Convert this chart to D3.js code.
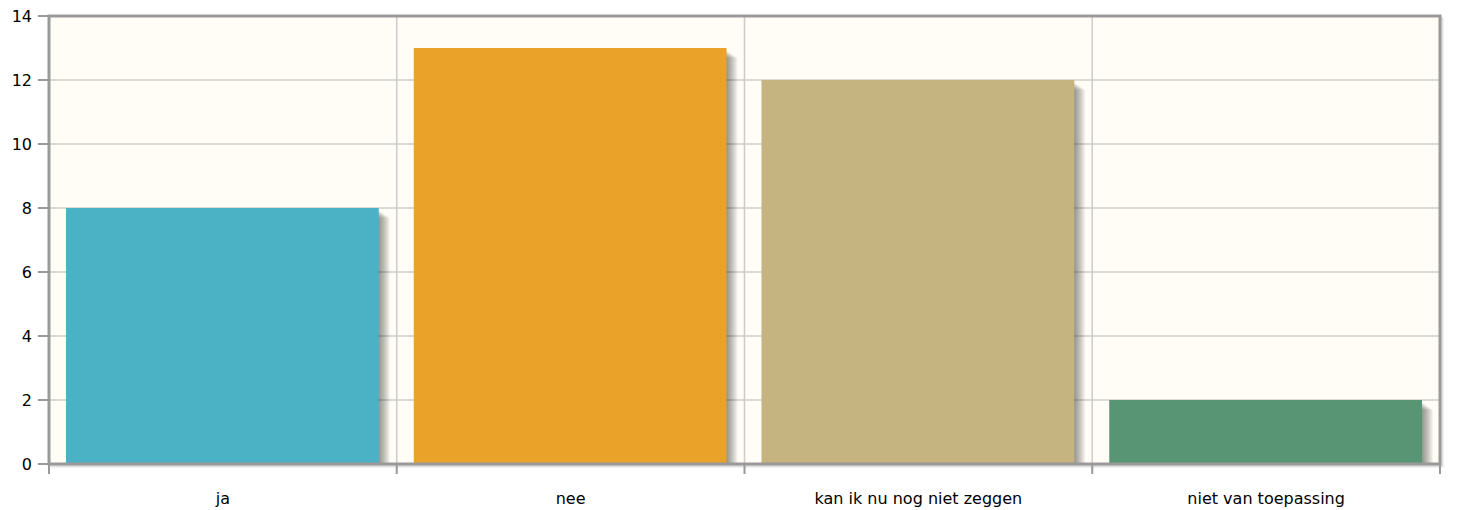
<!DOCTYPE html>
<html>
<head>
<meta charset="utf-8">
<script src="https://cdn.jsdelivr.net/npm/d3@7"></script>
<style>
  body { margin: 0; background: #fff; }
  text { font-family: "DejaVu Sans", sans-serif; font-size: 16px; fill: #000; }
</style>
</head>
<body>
<script>
// chart data
var categories = ["ja", "nee", "kan ik nu nog niet zeggen", "niet van toepassing"];
var counts = [8, 13, 12, 2];
var colors = ["#4bb2c5", "#eaa228", "#c5b47f", "#579575"];
var yTicks = [0, 2, 4, 6, 8, 10, 12, 14];

var W = 1457, H = 510;
var margin = { top: 16, right: 17, bottom: 46, left: 49 },
  width = W - margin.left - margin.right,
  height = H - margin.top - margin.bottom;

var svg = d3.select("body").append("svg")
  .attr("width", W)
  .attr("height", H);

var g = svg.append("g")
  .attr("transform", "translate(" + margin.left + "," + margin.top + ")");

var x = d3.scaleBand().domain(categories).range([0, width]).paddingInner(0).paddingOuter(0);
var y = d3.scaleLinear().domain([0, 14]).range([height, 0]);

// border shadow
for (var i = 1; i <= 3; i++) {
  g.append("rect")
    .attr("x", i).attr("y", i)
    .attr("width", width).attr("height", height)
    .attr("fill", "none")
    .attr("stroke", "#000")
    .attr("stroke-opacity", 0.06)
    .attr("stroke-width", 2);
}

// background
g.append("rect")
  .attr("width", width).attr("height", height)
  .attr("fill", "#fffdf6");

// horizontal grid
g.selectAll(".hgrid").data(yTicks.slice(1, -1)).enter().append("line")
  .attr("x1", 0).attr("x2", width)
  .attr("y1", function (d) { return y(d); })
  .attr("y2", function (d) { return y(d); })
  .attr("stroke", "#cccccc").attr("stroke-width", 1.5);

// vertical grid at category boundaries
var bounds = categories.map(function (c) { return x(c); }).concat([width]);
g.selectAll(".vgrid").data(bounds.slice(1, -1)).enter().append("line")
  .attr("x1", function (d) { return d; }).attr("x2", function (d) { return d; })
  .attr("y1", 0).attr("y2", height)
  .attr("stroke", "#cccccc").attr("stroke-width", 1.5);

// bars with jqplot-like shadow
var barPad = 17;
var bw = x.bandwidth() - 2 * barPad - 1;
categories.forEach(function (c, k) {
  var bx = x(c) + barPad, by = y(counts[k]);
  for (var s = 1; s <= 11; s++) {
    g.append("rect")
      .attr("x", bx + s).attr("y", by + s * 0.7 + 2)
      .attr("width", bw).attr("height", Math.max(0, height - by - s * 0.7 - 2))
      .attr("fill", "#000").attr("fill-opacity", 0.045);
  }
  g.append("rect")
    .attr("x", bx).attr("y", by)
    .attr("width", bw).attr("height", height - by)
    .attr("fill", colors[k]);
});

// plot border
g.append("rect")
  .attr("width", width).attr("height", height)
  .attr("fill", "none")
  .attr("stroke", "#999999").attr("stroke-width", 3);

// y ticks
g.selectAll(".yt").data(yTicks).enter().append("line")
  .attr("x1", -11).attr("x2", 0)
  .attr("y1", function (d) { return y(d); })
  .attr("y2", function (d) { return y(d); })
  .attr("stroke", "#999999").attr("stroke-width", 2);
g.selectAll(".yl").data(yTicks).enter().append("text")
  .attr("x", -17)
  .attr("y", function (d) { return y(d); })
  .attr("dy", "0.35em")
  .attr("text-anchor", "end")
  .text(function (d) { return d; });

// x ticks
g.selectAll(".xt").data(bounds).enter().append("line")
  .attr("x1", function (d) { return d; }).attr("x2", function (d) { return d; })
  .attr("y1", height).attr("y2", height + 10)
  .attr("stroke", "#999999").attr("stroke-width", 2);
g.selectAll(".xl").data(categories).enter().append("text")
  .attr("x", function (d) { return x(d) + x.bandwidth() / 2; })
  .attr("y", height + 40)
  .attr("text-anchor", "middle")
  .text(function (d) { return d; });
</script>
</body>
</html>
